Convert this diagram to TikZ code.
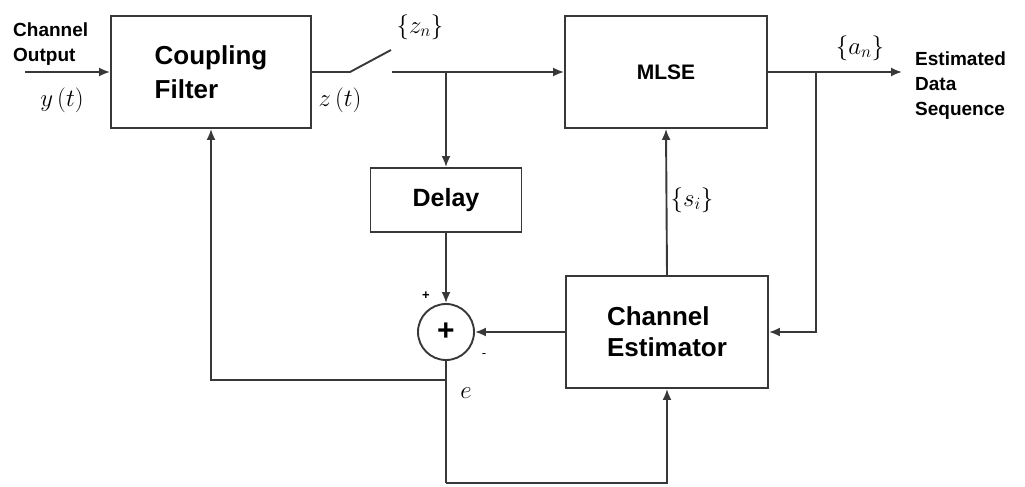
\documentclass[tikz,border=0pt]{standalone}
\usepackage{fontspec}
\setmainfont{Liberation Sans}
\usetikzlibrary{arrows.meta}
\definecolor{ln}{rgb}{0.22,0.22,0.22}
\tikzset{
  blk/.style={draw=ln, line width=1.9pt, rectangle, inner sep=0pt, align=center, font=\bfseries},
  conn/.style={draw=ln, line width=1.9pt},
  arr/.style={conn, -{Latex[length=11pt,width=9pt]}},
  lbl/.style={inner sep=0pt, align=left}
}
\newcommand{\fs}[1]{\fontsize{#1}{#1}\selectfont}
\begin{document}
\begin{tikzpicture}[x=1pt,y=-1pt]
\useasboundingbox (0,0) rectangle (1025,487);
% blocks
\node[blk, minimum width=200pt, minimum height=112pt, font=\bfseries\fs{26}, align=left] (cf) at (211,72) {Coupling\\[8pt]Filter};
\node[blk, minimum width=202pt, minimum height=112pt, font=\bfseries\fs{21}] (mlse) at (666,72) {MLSE};
\node[blk, minimum width=151pt, minimum height=64pt, font=\bfseries\fs{25}] (delay) at (446,200) {Delay};
\node[blk, minimum width=202pt, minimum height=112pt, font=\bfseries\fs{26}, align=left] (ce) at (667,332) {Channel\\[5pt]Estimator};
\node[draw=ln, line width=1.9pt, circle, minimum size=56pt, inner sep=0pt, font=\bfseries\fs{30}] (sum) at (446,332) {+};
% coordinates
\coordinate (in) at (25,72);
\coordinate (sw1) at (350,72);
\coordinate (sw2) at (391,50);
\coordinate (sw3) at (392,72);
\coordinate (br1) at (446,72);
\coordinate (br2) at (816,72);
\coordinate (out) at (902,72);
\coordinate (fb) at (211,380);
\coordinate (fbj) at (446,380);
\coordinate (bl) at (446,483);
\coordinate (br) at (667,483);
\coordinate (ce2) at (816,332);
% labels
\node[lbl, anchor=west, font=\bfseries\fs{19}] (chout) at (13,44) {Channel\\[6pt]Output};
\node[lbl] (yt) at (62,100) {\fs{24}$y\,(t)$};
\node[lbl] (zt) at (340,100) {\fs{24}$z\,(t)$};
\node[lbl] (zn) at (420,27) {\fs{24}$\{z_n\}$};
\node[lbl] (an) at (860,48) {\fs{24}$\{a_n\}$};
\node[lbl] (si) at (692,200) {\fs{24}$\{s_i\}$};
\node[lbl] (e) at (466,393) {\fs{24}$e$};
\node[lbl] (plus) at (426,296) {\fs{13}\bfseries +};
\node[lbl] (minus) at (484,356) {\fs{13}-};
\node[lbl, anchor=west, font=\bfseries\fs{19}] (eds) at (915,86) {Estimated\\[6pt]Data\\[6pt]Sequence};
% connectors
\draw[arr] (in) -- (cf.west);
\draw[conn] (cf.east) -- (sw1) -- (sw2);
\draw[arr] (sw3) -- (mlse.west);
\draw[arr] (br1) -- (delay.north);
\draw[arr] (delay.south) -- (sum.north);
\draw[arr] (ce.west) -- (sum.east);
\draw[conn] (sum.south) -- (bl);
\draw[arr] (bl) -- (br) -- (ce.south);
\draw[arr] (fbj) -- (fb) -- (cf.south);
\draw[arr] (ce.north) -- (mlse.south);
\draw[arr] (mlse.east) -- (out);
\draw[arr] (br2) -- (ce2) -- (ce.east);
\end{tikzpicture}
\end{document}
